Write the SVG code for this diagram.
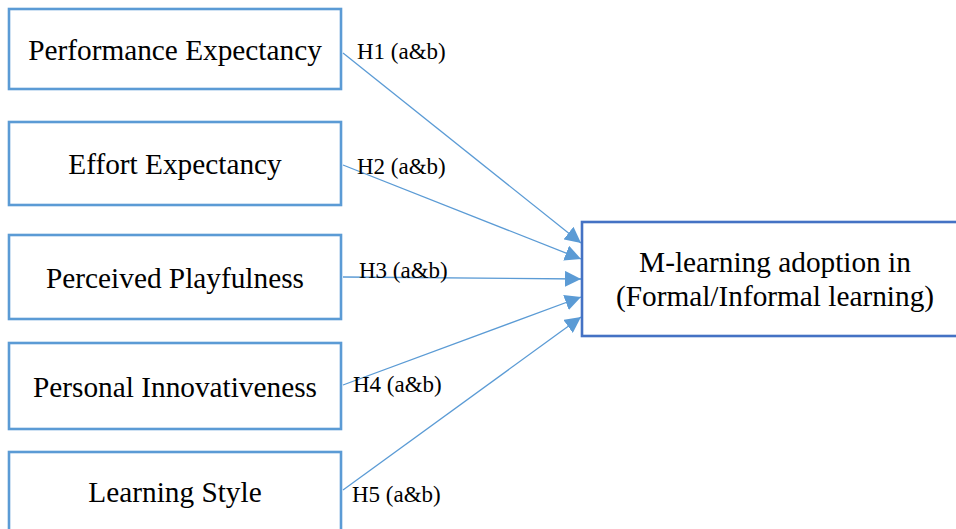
<svg xmlns="http://www.w3.org/2000/svg" width="956" height="529" viewBox="0 0 956 529">
<defs>
<style>
.box{fill:#fff;stroke:#5B9BD5;stroke-width:2.6}
.out{fill:#fff;stroke:#4472C4;stroke-width:2.6}
.lbl{font-family:"Liberation Serif","Times New Roman",serif;font-size:29.3px;fill:#000;text-anchor:middle}
.h{font-family:"Liberation Serif","Times New Roman",serif;font-size:23px;fill:#000}
.conn{stroke:#5B9BD5;stroke-width:1.3;fill:none;marker-end:url(#ah)}
</style>
<marker id="ah" markerUnits="userSpaceOnUse" markerWidth="16" markerHeight="16" refX="14" refY="7" orient="auto" viewBox="0 0 14 14">
<path d="M0,0 L14,7 L0,14 Z" fill="#5B9BD5"/>
</marker>
</defs>
<rect width="956" height="529" fill="#fff"/>
<g id="connectors">
<line class="conn" x1="343" y1="53" x2="581" y2="243"/>
<line class="conn" x1="343" y1="165" x2="581" y2="259"/>
<line class="conn" x1="343" y1="277" x2="581" y2="279"/>
<line class="conn" x1="343" y1="385" x2="581" y2="297"/>
<line class="conn" x1="343" y1="490" x2="581" y2="317"/>
</g>
<g id="n1">
<rect class="box" x="9" y="9" width="332" height="80"/>
<text class="lbl" x="175" y="60">Performance Expectancy</text>
</g>
<g id="n2">
<rect class="box" x="9" y="122" width="332" height="83"/>
<text class="lbl" x="175" y="174">Effort Expectancy</text>
</g>
<g id="n3">
<rect class="box" x="9" y="235" width="332" height="84"/>
<text class="lbl" x="175" y="288">Perceived Playfulness</text>
</g>
<g id="n4">
<rect class="box" x="9" y="343" width="332" height="86"/>
<text class="lbl" x="175" y="397">Personal Innovativeness</text>
</g>
<g id="n5">
<rect class="box" x="9" y="452" width="332" height="100"/>
<text class="lbl" x="175" y="502">Learning Style</text>
</g>
<g id="target">
<rect class="out" x="582" y="222" width="390" height="114"/>
<text class="lbl" x="775" y="272">M-learning adoption in</text>
<text class="lbl" x="775" y="306">(Formal/Informal learning)</text>
</g>
<g id="labels">
<text class="h" x="357" y="59">H1 (a&amp;b)</text>
<text class="h" x="357" y="174">H2 (a&amp;b)</text>
<text class="h" x="359" y="278">H3 (a&amp;b)</text>
<text class="h" x="353" y="392">H4 (a&amp;b)</text>
<text class="h" x="352" y="502">H5 (a&amp;b)</text>
</g>
</svg>
